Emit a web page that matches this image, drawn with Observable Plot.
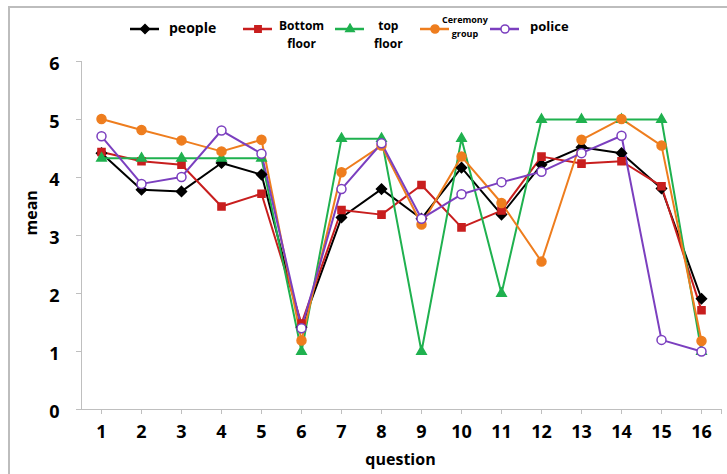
<!DOCTYPE html>
<html>
<head>
<meta charset="utf-8">
<script src="https://cdn.jsdelivr.net/npm/d3@7"></script>
<script src="https://cdn.jsdelivr.net/npm/@observablehq/plot@0.6"></script>
<style>
  html, body { margin: 0; padding: 0; background: #fff; }
  body { width: 727px; height: 474px; overflow: hidden; position: relative; font-family: "Open Sans", "Liberation Sans", sans-serif; }
  #frame { position: absolute; left: 8px; top: 6px; width: 760px; height: 500px; border-left: 2px solid #bdbdbd; border-top: 2px solid #bdbdbd; }
  #legend { position: absolute; left: 0; top: 0; width: 727px; height: 50px; }
  .lg { position: absolute; font-weight: bold; color: #000; line-height: 1.15; }
  #chart { position: absolute; left: 0; top: 50px; }
</style>
</head>
<body>
<div id="frame"></div>
<div id="legend"></div>
<div id="chart"></div>
<script>
const questions = [1,2,3,4,5,6,7,8,9,10,11,12,13,14,15,16];
const people      = [4.42,3.79,3.76,4.25,4.05,1.42,3.31,3.80,3.29,4.17,3.36,4.22,4.52,4.42,3.81,1.91];
const bottomFloor = [4.44,4.28,4.22,3.50,3.72,1.48,3.44,3.36,3.87,3.14,3.43,4.36,4.24,4.28,3.85,1.71];
const topFloor    = [4.33,4.33,4.33,4.33,4.33,1.00,4.67,4.67,1.00,4.67,2.00,5.00,5.00,5.00,5.00,1.00];
const ceremony    = [5.01,4.82,4.64,4.45,4.65,1.19,4.09,4.55,3.19,4.36,3.56,2.55,4.65,5.01,4.55,1.18];
const police      = [4.71,3.89,4.01,4.81,4.41,1.40,3.80,4.59,3.29,3.71,3.92,4.10,4.42,4.72,1.20,1.00];
const yTicks = [0,1,2,3,4,5,6];
const seriesNames = ["people", "Bottom floor", "top floor", "Ceremony group", "police"];

const seriesValues = [people, bottomFloor, topFloor, ceremony, police];
const styles = [
  {color: "#000000", symbol: "diamond2", r: 4.5, fill: "#000000"},
  {color: "#c81e1e", symbol: "square", r: 4, fill: "#c81e1e"},
  {color: "#1fb14f", symbol: "triangle", r: 3.5, fill: "#1fb14f"},
  {color: "#ee7d1e", symbol: "circle", r: 4.5, fill: "#ee7d1e"},
  {color: "#7b3fbf", symbol: "circle", r: 4.5, fill: "#ffffff"}
];

const marks = [
  Plot.ruleY([0], {stroke: "#bfbfbf"}),
  Plot.ruleX([0.5], {y1: 0, y2: 6, stroke: "#bfbfbf"}),
  Plot.axisY({ticks: yTicks, tickSize: 5, stroke: "#bfbfbf", label: null, tickFormat: () => ""}),
  Plot.axisY({ticks: yTicks, tickSize: 0, tickPadding: 22, fill: "#000",
    fontSize: 18, fontWeight: "bold", label: null, dy: 3, tickFormat: d3.format("d")}),
  Plot.axisX({ticks: [...questions, 16.5], tickSize: 5, tickPadding: 11, stroke: "#bfbfbf", fill: "#000",
    fontSize: 18, fontWeight: "bold", label: null,
    tickFormat: d => Number.isInteger(d) ? String(d) : ""})
];
seriesValues.forEach((vals, i) => {
  const data = questions.map((q, j) => ({q, v: vals[j]}));
  const s = styles[i];
  marks.push(Plot.line(data, {x: "q", y: "v", stroke: s.color, strokeWidth: 2}));
});
seriesValues.forEach((vals, i) => {
  const data = questions.map((q, j) => ({q, v: vals[j]}));
  const s = styles[i];
  marks.push(Plot.dot(data, {x: "q", y: "v", symbol: s.symbol, r: s.r, fill: s.fill, stroke: s.color, strokeWidth: 1.5}));
});
marks.push(Plot.text(["mean"], {frameAnchor: "left", dx: -50, rotate: -90, fontSize: 16, fontWeight: "bold", fill: "#000"}));
marks.push(Plot.text(["question"], {frameAnchor: "bottom", dy: 55, dx: -1, fontSize: 16, fontWeight: "bold", fill: "#000"}));

const chart = Plot.plot({
  width: 727, height: 424,
  marginLeft: 81, marginRight: 6, marginTop: 11, marginBottom: 65,
  x: {domain: [0.5, 16.5]},
  y: {domain: [0, 6]},
  style: {fontFamily: "'Open Sans', 'Liberation Sans', sans-serif", background: "transparent", overflow: "visible"},
  marks
});
document.getElementById("chart").appendChild(chart);

// Legend
const legend = document.getElementById("legend");
const legendItems = [
  {x: 130, lines: ["people"], tx: 169, ty: 20, fs: 14},
  {x: 243, lines: ["Bottom", "floor"], tx: 279, ty: 21, fs: 12},
  {x: 335, lines: ["top", "floor"], tx: 374, ty: 21, fs: 12},
  {x: 420, lines: ["Ceremony", "group"], tx: 442, ty: 17, fs: 9},
  {x: 490, lines: ["police"], tx: 530, ty: 19, fs: 13}
];
legendItems.forEach((it, i) => {
  const s = styles[i];
  const sym = d3.create("svg").attr("width", 30).attr("height", 12)
    .style("position", "absolute").style("left", it.x + "px").style("top", "23px");
  sym.append("line").attr("x1", 0).attr("x2", 29).attr("y1", 6).attr("y2", 6)
    .attr("stroke", s.color).attr("stroke-width", 2.5);
  const symType = {diamond2: d3.symbolDiamond2, square: d3.symbolSquare, triangle: d3.symbolTriangle, circle: d3.symbolCircle}[s.symbol];
  sym.append("path").attr("transform", "translate(15,6)")
    .attr("d", d3.symbol(symType, Math.PI * s.r * s.r * 0.8)())
    .attr("fill", s.fill).attr("stroke", s.color).attr("stroke-width", 1.5);
  legend.appendChild(sym.node());
  const t = document.createElement("div");
  t.className = "lg";
  t.style.left = it.tx + "px";
  t.style.top = (it.lines.length > 1 ? it.ty - 4 : it.ty) + "px";
  t.style.fontSize = it.fs + "px";
  t.style.textAlign = "center";
  t.innerHTML = it.lines.join("<br>");
  if (it.lines.length > 1) t.style.lineHeight = (it.fs * 1.5) + "px";
  legend.appendChild(t);
});
</script>
</body>
</html>
